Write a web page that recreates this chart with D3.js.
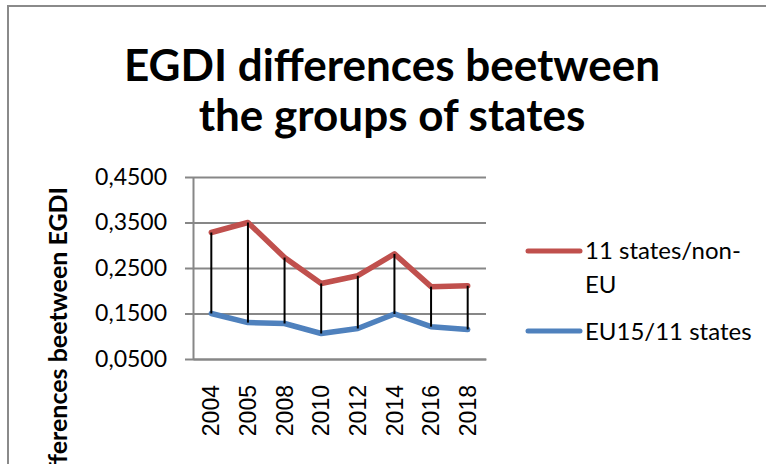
<!DOCTYPE html>
<html>
<head>
<meta charset="utf-8">
<script src="https://cdn.jsdelivr.net/npm/d3@7"></script>
<style>
  body { margin: 0; background: #fff; }
  svg { display: block; }
</style>
</head>
<body>
<svg id="chart" width="766" height="464"></svg>
<script>
// values
const years = ['2004', '2005', '2008', '2010', '2012', '2014', '2016', '2018'];
const nonEU = [0.328, 0.350, 0.273, 0.216, 0.233, 0.281, 0.209, 0.211];
const eu15 = [0.150, 0.130, 0.128, 0.106, 0.117, 0.149, 0.121, 0.115];
const yTicks = [0.05, 0.15, 0.25, 0.35, 0.45];
const seriesNames = ['11 states/non-EU', 'EU15/11 states'];

const red = '#C0504D';
const blue = '#4F81BD';
const grid = '#878787';
const font = 'Lato, "Open Sans", sans-serif';

const svg = d3.select('#chart');

// outer chart border (only top and left are visible in the crop)
svg.append('path')
  .attr('d', 'M8,470 L8,6 L770,6')
  .attr('fill', 'none')
  .attr('stroke', '#8a8a8a')
  .attr('stroke-width', 2);

// title
const title = svg.append('text')
  .attr('text-anchor', 'middle')
  .attr('font-family', font)
  .attr('font-weight', 'bold')
  .attr('font-size', 44)
  .attr('fill', '#000');
title.append('tspan').attr('x', 392).attr('y', 81).text('EGDI differences beetween');
title.append('tspan').attr('x', 392).attr('y', 131).text('the groups of states');

const plot = {left: 193, right: 486, top: 177, bottom: 359};

const x = d3.scaleBand()
  .domain(years)
  .range([plot.left, plot.right]);
const y = d3.scaleLinear()
  .domain([0.05, 0.45])
  .range([plot.bottom, plot.top]);
const cx = yr => x(yr) + x.bandwidth() / 2;

// horizontal grid lines
svg.append('g')
  .attr('transform', `translate(${plot.left},0)`)
  .call(d3.axisLeft(y).tickValues(yTicks).tickSize(-(plot.right - plot.left)).tickFormat(''))
  .call(g => g.select('.domain').remove())
  .call(g => g.selectAll('line').attr('stroke', grid).attr('stroke-width', 2));

// y axis with outward ticks and labels
const fmt = d => d.toFixed(4).replace('.', ',');
svg.append('g')
  .attr('transform', `translate(${plot.left},0)`)
  .call(d3.axisLeft(y).tickValues(yTicks).tickSize(8).tickSizeOuter(0).tickPadding(18).tickFormat(fmt))
  .call(g => g.select('.domain').attr('stroke', grid).attr('stroke-width', 2))
  .call(g => g.selectAll('line').attr('stroke', grid).attr('stroke-width', 2))
  .call(g => g.selectAll('text')
    .attr('font-family', font)
    .attr('font-size', 23)
    .attr('fill', '#000'));

// x axis: no ticks, rotated labels
svg.append('g')
  .attr('transform', `translate(0,${plot.bottom})`)
  .call(d3.axisBottom(x).tickSize(0).tickSizeOuter(0))
  .call(g => g.select('.domain').attr('stroke', grid).attr('stroke-width', 2))
  .call(g => g.selectAll('text')
    .attr('font-family', '"Liberation Sans", Arial, sans-serif')
    .attr('font-size', 23)
    .attr('fill', '#000')
    .attr('text-anchor', 'end')
    .attr('transform', 'rotate(-90)')
    .attr('x', -26)
    .attr('y', 0)
    .attr('dy', '0.35em'));

// y axis title (runs off the bottom of the crop, as in the source)
svg.append('text')
  .attr('transform', 'translate(67,187) rotate(-90)')
  .attr('text-anchor', 'end')
  .attr('font-family', font)
  .attr('font-weight', 'bold')
  .attr('font-size', 25)
  .attr('fill', '#000')
  .text('Differences beetween EGDI');

// series lines
const line = d3.line()
  .x((d, i) => cx(years[i]))
  .y(d => y(d));

svg.append('path')
  .datum(nonEU)
  .attr('d', line)
  .attr('fill', 'none')
  .attr('stroke', red)
  .attr('stroke-width', 5.5)
  .attr('stroke-linejoin', 'round')
  .attr('stroke-linecap', 'round');

svg.append('path')
  .datum(eu15)
  .attr('d', line)
  .attr('fill', 'none')
  .attr('stroke', blue)
  .attr('stroke-width', 5.5)
  .attr('stroke-linejoin', 'round')
  .attr('stroke-linecap', 'round');

// high-low lines between the two series
svg.append('g')
  .selectAll('line')
  .data(years)
  .join('line')
  .attr('x1', cx)
  .attr('x2', cx)
  .attr('y1', (d, i) => y(nonEU[i]))
  .attr('y2', (d, i) => y(eu15[i]))
  .attr('stroke', '#000')
  .attr('stroke-width', 2);

// legend
const legend = svg.append('g')
  .attr('font-family', font)
  .attr('font-size', 24)
  .attr('fill', '#000');

legend.append('line')
  .attr('x1', 528).attr('x2', 580)
  .attr('y1', 251).attr('y2', 251)
  .attr('stroke', red).attr('stroke-width', 5).attr('stroke-linecap', 'round');
const lt = legend.append('text');
lt.append('tspan').attr('x', 585).attr('y', 259).text('11 states/non-');
lt.append('tspan').attr('x', 585).attr('y', 293).text(seriesNames[0].split('non-')[1]);

legend.append('line')
  .attr('x1', 528).attr('x2', 580)
  .attr('y1', 331).attr('y2', 331)
  .attr('stroke', blue).attr('stroke-width', 5).attr('stroke-linecap', 'round');
legend.append('text')
  .attr('x', 585).attr('y', 340)
  .text(seriesNames[1]);
</script>
</body>
</html>
